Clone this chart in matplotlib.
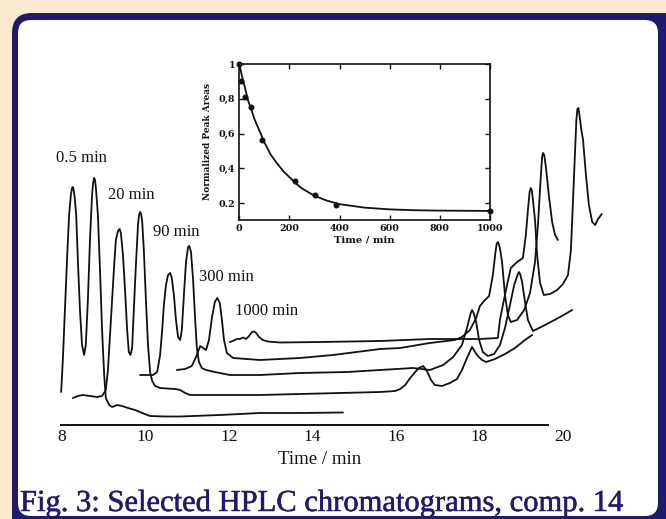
import matplotlib
matplotlib.use("Agg")
import matplotlib.pyplot as plt
from matplotlib.patches import FancyBboxPatch
import matplotlib.patheffects as pe

# ---------------- data ----------------
# chromatogram traces: retention time (min) vs detector signal (a.u.)
t05_time = [7.98, 8.02, 8.07, 8.12, 8.17, 8.21, 8.235, 8.255, 8.275, 8.30, 8.34, 8.38, 8.43,
            8.48, 8.53, 8.57, 8.62, 8.67, 8.72, 8.745, 8.77, 8.79, 8.81, 8.86, 8.91, 8.96,
            9.01, 9.05, 9.13, 9.20, 9.32, 9.44, 9.58, 9.75, 9.92, 10.11, 10.47, 10.83, 11.78,
            12.74, 13.70, 14.73]
t05_signal = [33, 65, 115, 165, 210, 229, 236, 238, 236, 229, 210, 165, 115,
              80, 70, 80, 125, 185, 230, 242, 247, 245, 238, 210, 155, 95,
              50, 27, 20, 18, 20, 19, 17, 15, 12, 9, 8.5, 8.5, 10,
              12, 12, 12.5]

t20_time = [8.26, 8.38, 8.50, 8.67, 8.84, 8.96, 9.05, 9.10, 9.15, 9.20, 9.25, 9.29, 9.34, 9.38,
            9.41, 9.46, 9.51, 9.56, 9.60, 9.64, 9.68, 9.72, 9.77, 9.82, 9.845, 9.87, 9.895,
            9.92, 9.96, 10.01, 10.06, 10.11, 10.16, 10.23, 10.35, 10.51, 10.71, 10.83, 10.95,
            11.07, 11.78, 12.74, 13.70, 14.66, 15.62, 15.98, 16.10, 16.22, 16.34, 16.46, 16.55,
            16.65, 16.74, 16.84, 16.93, 17.10, 17.29, 17.46, 17.58, 17.70, 17.82, 17.94, 18.06,
            18.16, 18.37, 18.61, 18.85, 19.09, 19.26]
t20_signal = [27, 29, 30, 29, 28, 29, 35, 55, 90, 125, 160, 185, 194, 196,
              192, 170, 135, 95, 73, 70, 77, 115, 160, 200, 210, 213, 211,
              204, 175, 125, 80, 53, 44, 39, 37, 36.5, 36, 35, 32,
              30, 30, 30, 31, 32, 33, 34, 36, 40, 47, 53, 57,
              59, 54, 45, 40, 39, 42, 46, 55, 67, 78, 70, 65,
              63, 66, 71, 77, 85, 90]

t90_time = [9.87, 10.04, 10.18, 10.28, 10.35, 10.40, 10.44, 10.49, 10.54, 10.59, 10.63, 10.68,
            10.73, 10.78, 10.83, 10.87, 10.92, 10.97, 11.02, 11.05, 11.09, 11.14, 11.19, 11.23,
            11.28, 11.35, 11.45, 11.66, 12.02, 12.74, 13.70, 14.83, 15.62, 16.41, 16.81, 17.13,
            17.37, 17.58, 17.70, 17.79, 17.82, 17.86, 17.92, 17.99, 18.08, 18.20, 18.35, 18.49,
            18.61, 18.73, 18.83, 18.92, 18.95, 18.98, 19.02, 19.09, 19.16, 19.28, 19.57, 19.93,
            20.22]
t90_signal = [50, 50, 50, 53, 70, 95, 120, 140, 150, 152, 147, 130,
              105, 88, 85, 95, 130, 163, 178, 179, 173, 145, 105, 77,
              63, 57, 55, 53, 50, 50, 52, 53, 55, 57, 55, 60,
              68, 80, 97, 112, 115, 112, 103, 85, 73, 69, 71, 80,
              97, 120, 140, 151, 153, 150, 143, 123, 105, 94, 100, 108,
              115]

t300_time = [10.75, 10.95, 11.11, 11.21, 11.31, 11.38, 11.45, 11.52, 11.59, 11.66, 11.72, 11.78,
             11.83, 11.88, 11.95, 12.10, 12.74, 13.70, 14.49, 15.62, 16.10, 16.81, 17.41, 17.58,
             17.77, 17.92, 18.01, 18.11, 18.23, 18.32, 18.38, 18.41, 18.44, 18.47, 18.50, 18.54,
             18.61, 18.68, 18.75, 18.90, 19.07, 19.21, 19.33, 19.40, 19.47, 19.50, 19.52, 19.55,
             19.59, 19.66, 19.74, 19.81, 19.88]
t300_signal = [55, 56, 59, 68, 79, 77, 75, 85, 107, 123, 127, 122,
               105, 85, 72, 67, 65, 67, 70, 76, 77, 82, 85, 88,
               95, 107, 119, 124, 129, 150, 172, 181, 183, 180, 174, 163,
               130, 110, 103, 105, 115, 132, 163, 200, 250, 268, 272, 270,
               258, 230, 203, 190, 185]

t1000_time = [12.02, 12.12, 12.19, 12.26, 12.34, 12.41, 12.48, 12.55, 12.60, 12.65, 12.72, 12.81,
              12.93, 13.22, 14.18, 15.62, 16.81, 18.01, 18.44, 18.49, 18.56, 18.66, 18.75, 18.90,
              19.04, 19.11, 19.16, 19.20, 19.23, 19.255, 19.28, 19.33, 19.38, 19.45, 19.54, 19.69,
              19.86, 20.00, 20.12, 20.19, 20.24, 20.29, 20.32, 20.345, 20.37, 20.40, 20.44, 20.48,
              20.55, 20.62, 20.70, 20.77, 20.84, 20.93]
t1000_signal = [83, 84.5, 86, 86, 87.5, 86, 89, 93, 93.5, 92, 88, 85,
                83.5, 82.5, 83, 84, 86, 86, 87, 105, 120, 140, 157, 163,
                167, 190, 215, 233, 237, 234, 225, 205, 170, 142, 130, 131,
                135, 141, 150, 175, 225, 275, 305, 316, 317, 308, 295, 285,
                250, 220, 203, 200, 206, 211]

trace_labels = ["0.5 min", "20 min", "90 min", "300 min", "1000 min"]
label_time = [7.86, 9.10, 10.18, 11.28, 12.14]
label_signal = [267, 230, 193, 148, 114]

x_ticks = [8, 10, 12, 14, 16, 18, 20]

# inset: normalized peak areas vs time
inset_time = [0, 5, 23, 47, 92, 221, 302, 386, 1000]
inset_area = [1.0, 0.905, 0.81, 0.755, 0.565, 0.326, 0.248, 0.192, 0.158]
fit_time = [0, 10, 25, 35, 50, 60, 75, 100, 125, 150, 175, 200, 225, 250, 300, 350, 400,
            500, 600, 700, 800, 900, 1000]
fit_area = [1.0, 0.935, 0.85, 0.79, 0.73, 0.685, 0.635, 0.55, 0.48, 0.43, 0.385, 0.35, 0.315,
            0.285, 0.243, 0.215, 0.195, 0.175, 0.165, 0.16, 0.158, 0.157, 0.156]
inset_xticks = [0, 200, 400, 600, 800, 1000]
inset_yticks = [0.2, 0.4, 0.6, 0.8, 1.0]
inset_yticklabels = ["0.2", "0,4", "0,6", "0,8", "1"]

caption = "Fig. 3: Selected HPLC chromatograms, comp. 14"

# ---------------- styling ----------------
BEIGE = "#FAEBD0"
NAVY = "#1F1A6E"
INK = "#111111"
W, H = 666, 519

fig = plt.figure(figsize=(W / 100, H / 100), dpi=100, facecolor=BEIGE)

# decorative frame (layout only)
bg = fig.add_axes([0, 0, 1, 1], zorder=0)
bg.set_xlim(0, W)
bg.set_ylim(H, 0)
bg.axis("off")
bg.add_patch(FancyBboxPatch((12 + 20, 13 + 20), 680 - 40, 540 - 40,
                            boxstyle="round,pad=20", fc=NAVY, ec="none"))
bg.add_patch(FancyBboxPatch((18 + 13, 20 + 13), 640 - 26, 496 - 26,
                            boxstyle="round,pad=13", fc="white", ec="none"))
bg.text(20, 511, caption, color=NAVY, fontsize=22, family="Liberation Serif",
        va="baseline", ha="left",
        path_effects=[pe.withStroke(linewidth=0.35, foreground=NAVY)])

# main chromatogram axes
x_lo, x_hi = 7.5, 21.8
px_per_min = 41.75
left_px = 62 - (8 - x_lo) * px_per_min
width_px = (x_hi - x_lo) * px_per_min
ax = fig.add_axes([left_px / W, 94 / H, width_px / W, 330 / H], zorder=1)
ax.patch.set_alpha(0)
ax.set_xlim(x_lo, x_hi)
ax.set_ylim(0, 330)

traces = [(t05_time, t05_signal), (t20_time, t20_signal), (t90_time, t90_signal),
          (t300_time, t300_signal), (t1000_time, t1000_signal)]
for tt, ss in traces:
    ax.plot(tt, ss, color=INK, lw=1.3, solid_joinstyle="round", solid_capstyle="round",
            clip_on=False)

for lab, lt, ls in zip(trace_labels, label_time, label_signal):
    ax.text(lt, ls, lab, fontsize=12, family="Liberation Serif", color=INK,
            ha="left", va="center")

for s in ["top", "right", "left"]:
    ax.spines[s].set_visible(False)
ax.spines["bottom"].set_bounds(7.98, 19.64)
ax.spines["bottom"].set_linewidth(1.4)
ax.spines["bottom"].set_color(INK)
ax.set_yticks([])
ax.set_xticks(x_ticks)
ax.set_xticklabels([str(v) for v in x_ticks], family="Liberation Serif", fontsize=12.5)
ax.tick_params(axis="x", length=0, pad=3, colors=INK)
ax.set_xlabel("Time / min", family="Liberation Serif", fontsize=13.5, color=INK)
ax.xaxis.set_label_coords((320 - left_px) / width_px, -26 / 330)

# inset
axi = fig.add_axes([239.3 / W, (H - 220) / H, 250.7 / W, 156 / H], zorder=2)
axi.set_facecolor("white")
axi.set_xlim(0, 1000)
axi.set_ylim(0.104, 1.0)
axi.plot(fit_time, fit_area, color=INK, lw=1.3, clip_on=False)
axi.plot(inset_time, inset_area, "o", color=INK, ms=3.3, clip_on=False)
for s in axi.spines.values():
    s.set_linewidth(1.2)
    s.set_color(INK)
axi.set_xticks(inset_xticks)
axi.set_xticklabels([str(v) for v in inset_xticks], family="DejaVu Serif",
                    fontweight="bold", fontsize=6.8)
axi.set_yticks(inset_yticks)
axi.set_yticklabels(inset_yticklabels, family="DejaVu Serif", fontweight="bold",
                    fontsize=6.8)
axi.tick_params(direction="in", length=3.5, width=1.0, top=True, right=True, pad=3,
                colors=INK)
axi.set_xlabel("Time / min", family="DejaVu Serif", fontweight="bold", fontsize=7.2,
               labelpad=2, color=INK)
axi.set_ylabel("Normalized Peak Areas", family="DejaVu Serif", fontweight="bold",
               fontsize=6.5, labelpad=5, color=INK)

fig.savefig("out.png", dpi=100, facecolor=BEIGE)
